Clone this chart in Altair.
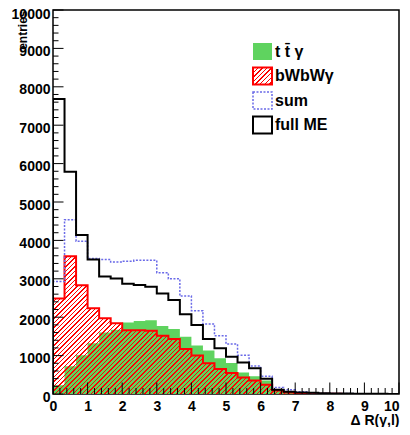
import altair as alt
import pandas as pd

# ---------------- data (bin contents, 30 bins of width 1/3 over 0..10) ----------------
edges = [i / 3 for i in range(31)]

ttg = [230, 720, 1010, 1320, 1600, 1670, 1860, 1900, 1920, 1770,
       1690, 1490, 1260, 1130, 930, 810, 560, 460, 350, 130,
       80, 40, 20, 15, 10, 8, 5, 3, 3, 2]

bwbw = [2490, 3590, 2830, 2230, 1970, 1840, 1660, 1660, 1650, 1520,
        1430, 1170, 1000, 800, 650, 550, 430, 350, 240, 90,
        40, 20, 10, 8, 5, 3, 2, 2, 1, 1]

summ = [2930, 4540, 3980, 3530, 3500, 3440, 3460, 3480, 3480, 3160,
        3000, 2550, 2170, 1820, 1520, 1300, 1010, 730, 460, 170,
        110, 60, 30, 20, 15, 10, 8, 5, 5, 3]

full = [7680, 5790, 4140, 3500, 3060, 3010, 2870, 2840, 2790, 2620,
        2450, 2080, 1800, 1430, 1190, 970, 820, 670, 400, 110,
        60, 40, 30, 20, 15, 10, 8, 5, 5, 3]

legend_labels = ["t t\u0304 \u03b3", "bWbW\u03b3", "sum", "full ME"]
x_tick_values = list(range(11))
y_tick_values = list(range(0, 10001, 1000))
x_minor = [i / 5 for i in range(51) if i % 5 != 0]
y_minor = [i * 200 for i in range(51) if i % 5 != 0]
x_title = "\u0394 R(\u03b3,l)"
y_title = "entries"

# ---------------- layout / style ----------------
W, H = 346, 384
FONT = "Liberation Sans"
GREEN = "#5fd35f"
RED = "#ff0000"
BLUE = "#6a6ae8"


def step_df(vals):
    xs = [0.0] + edges
    ys = [0] + vals + [vals[-1]]
    return pd.DataFrame({"x": xs, "y": ys})


def hatch(width_px, height_px, period_px=4.5, frac=0.33):
    r = height_px / width_px
    s = (1 + r) / (1 + r * r) * 1.02
    n = max(1, round(width_px * s * (1 + r * r) / period_px))
    stops = []
    for i in range(n):
        a = round(i / n, 6)
        b = round((i + frac) / n, 6)
        c = round((i + 1) / n, 6)
        stops += [alt.GradientStop(offset=a, color=RED),
                  alt.GradientStop(offset=b, color=RED),
                  alt.GradientStop(offset=b, color="rgba(255,255,255,0)"),
                  alt.GradientStop(offset=c, color="rgba(255,255,255,0)")]
    return alt.LinearGradient(gradient="linear", stops=stops,
                              x1=0, y1=0, x2=s, y2=s * r)


xscale = alt.Scale(domain=[0, 10], nice=False)
yscale = alt.Scale(domain=[0, 10000], nice=False)
x_axis = alt.Axis(
    values=x_tick_values, format="d", title=x_title,
    labelAlign={"condition": {"test": "datum.value >= 10", "value": "right"},
                "value": "center"},
)
y_axis = alt.Axis(
    values=y_tick_values, format="d", title=y_title,
    labelOffset={"condition": {"test": "datum.value >= 10000", "value": 4.5},
                 "value": 3},
)


def X():
    return alt.X("x:Q", scale=xscale, axis=x_axis)


def Y():
    return alt.Y("y:Q", scale=yscale, axis=y_axis)


green_area = alt.Chart(step_df(ttg)).mark_area(
    interpolate="step-after", fill=GREEN, clip=True
).encode(x=X(), y=Y())

red_h = max(bwbw) / 10000 * H
red_area = alt.Chart(step_df(bwbw)).mark_area(
    interpolate="step-after", fill=hatch(W, red_h), clip=True
).encode(x=X(), y=Y())

red_line = alt.Chart(step_df(bwbw)).mark_line(
    interpolate="step-after", color=RED, strokeWidth=2, clip=True
).encode(x=X(), y=Y())

blue_line = alt.Chart(step_df(summ)).mark_line(
    interpolate="step-after", color=BLUE, strokeWidth=1.5, strokeDash=[2, 1.5],
    clip=True
).encode(x=X(), y=Y())

black_line = alt.Chart(step_df(full)).mark_line(
    interpolate="step-after", color="black", strokeWidth=2, clip=True
).encode(x=X(), y=Y())

# inward ticks (ROOT style)
xt_major = alt.Chart(pd.DataFrame({"x": x_tick_values})).mark_rule(
    color="black", strokeWidth=1).encode(x=X(), y=alt.value(H), y2=alt.value(H - 11.5))
xt_minor = alt.Chart(pd.DataFrame({"x": x_minor})).mark_rule(
    color="black", strokeWidth=1).encode(x=X(), y=alt.value(H), y2=alt.value(H - 6))
yt_major = alt.Chart(pd.DataFrame({"y": y_tick_values})).mark_rule(
    color="black", strokeWidth=1).encode(y=Y(), x=alt.value(0), x2=alt.value(10.5))
yt_minor = alt.Chart(pd.DataFrame({"y": y_minor})).mark_rule(
    color="black", strokeWidth=1).encode(y=Y(), x=alt.value(0), x2=alt.value(5.5))

# legend (drawn by hand, ROOT TLegend style)
one = pd.DataFrame({"a": [0]})
lx0, lx1 = 200, 219
leg_layers = []
for i, lab in enumerate(legend_labels):
    top = 33 + i * 24.5
    bot = top + 17
    if i == 0:
        box = alt.Chart(one).mark_rect(fill=GREEN)
    elif i == 1:
        box = alt.Chart(one).mark_rect(fill=hatch(lx1 - lx0, bot - top, 4.5, 0.33),
                                       stroke=RED, strokeWidth=2)
    elif i == 2:
        box = alt.Chart(one).mark_rect(fill="transparent", stroke=BLUE,
                                       strokeWidth=1.5, strokeDash=[2, 1.5])
    else:
        box = alt.Chart(one).mark_rect(fill="transparent", stroke="black",
                                       strokeWidth=2)
    box = box.encode(x=alt.value(lx0), x2=alt.value(lx1),
                     y=alt.value(top), y2=alt.value(bot))
    txt = alt.Chart(one).mark_text(
        text=lab, align="left", baseline="middle", font=FONT, fontSize=16,
        fontWeight="bold", color="black"
    ).encode(x=alt.value(lx1 + 3), y=alt.value((top + bot) / 2))
    leg_layers += [box, txt]

chart = alt.layer(
    green_area, red_area, red_line, blue_line, black_line,
    xt_major, xt_minor, yt_major, yt_minor, *leg_layers
).properties(
    width=W, height=H,
    padding={"left": 45, "top": 2, "right": 2, "bottom": 33},
    autosize=alt.AutoSizeParams(type="none"),
    background="white",
).configure_view(
    stroke="black", strokeWidth=1.5
).configure_axis(
    ticks=False, tickSize=0, grid=False, domain=False,
    labelFont=FONT, labelFontSize=14, labelFontWeight="bold",
    labelColor="black", labelFlush=False, labelOverlap=False, labelBound=False,
    titleFont=FONT, titleFontWeight="bold", titleColor="black",
).configure_axisX(
    labelPadding=5, titleFontSize=14, titleAnchor="end", titleAlign="right",
    titleX=W, titleY=30.5, titleBaseline="alphabetic",
).configure_axisY(
    labelPadding=3, titleFontSize=12, titleAngle=270,
    titleAlign="right", titleBaseline="alphabetic", titleX=-27, titleY=0,
)

chart.save("out.html", embed_options={"renderer": "svg", "actions": False})
